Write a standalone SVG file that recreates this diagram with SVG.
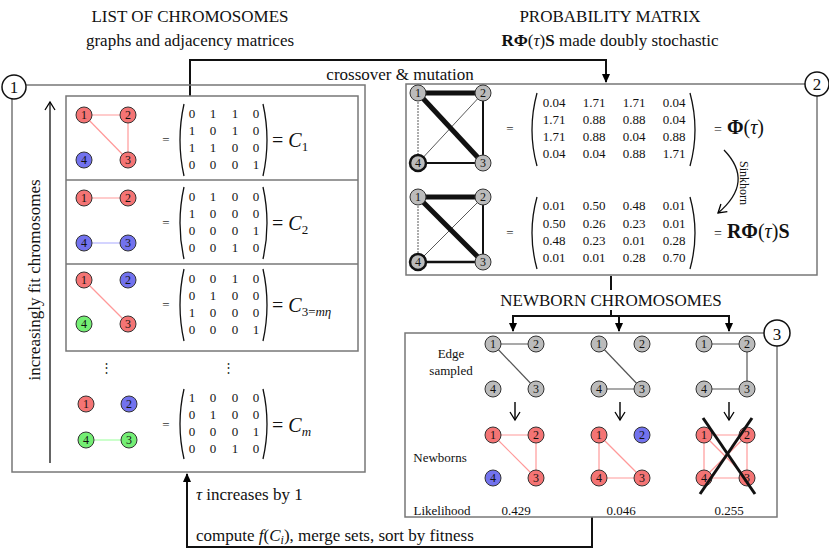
<svg xmlns="http://www.w3.org/2000/svg" width="829" height="555" viewBox="0 0 829 555" font-family="'Liberation Serif', 'DejaVu Serif', 'Times New Roman', serif">
<defs>
<marker id="ah" markerWidth="10" markerHeight="10" refX="8" refY="5" orient="auto" markerUnits="userSpaceOnUse"><path d="M0,1 L9,5 L0,9 z" fill="#000"/></marker>
<marker id="ao" markerWidth="12" markerHeight="12" refX="9" refY="6" orient="auto" markerUnits="userSpaceOnUse"><path d="M1,1 L9,6 L1,11" fill="none" stroke="#000" stroke-width="1.3"/></marker>
</defs>
<style>
text{font-family:'Liberation Serif','DejaVu Serif',serif;fill:#111}
.n{stroke:#333;stroke-width:1}
.r{fill:#f47474}.b{fill:#7272ee}.g{fill:#74ee74}.y{fill:#bbb}
.nl{font-size:12px;text-anchor:middle}
.m{font-size:13px;text-anchor:middle;fill:#333}
.er{stroke:#f99;stroke-width:1.2}
.box{fill:none;stroke:#777;stroke-width:1.5}
.big{font-size:20px}
.h{font-size:17px;text-anchor:middle}
.t{font-size:17px}
.p{fill:none;stroke:#111;stroke-width:1.3}
.c{fill:#fff;stroke:#111;stroke-width:1.5}
.ln{stroke:#111;stroke-width:2;fill:none}
</style>

<text class="h" x="190" y="22">LIST OF CHROMOSOMES</text>
<text class="h" x="190" y="46">graphs and adjacency matrices</text>
<text class="h" x="610" y="22">PROBABILITY MATRIX</text>
<text class="h" x="610" y="46"><tspan font-weight="bold">RΦ</tspan>(<tspan font-style="italic">τ</tspan>)<tspan font-weight="bold">S</tspan> made doubly stochastic</text>

<g id="connectors">
<polyline class="ln" points="190,96 190,60 606,60 606,82" marker-end="url(#ah)"/>
<text class="t" x="400" y="80" text-anchor="middle">crossover &amp; mutation</text>
<polyline class="ln" points="611,276 611,290"/>
<text class="t" x="611" y="306" text-anchor="middle">NEWBORN CHROMOSOMES</text>
<polyline class="ln" points="611,310 611,316"/>
<polyline class="ln" points="513,331 513,316 729,316 729,331"/>
<line class="ln" x1="513" y1="316" x2="513" y2="331" marker-end="url(#ah)"/>
<line class="ln" x1="619" y1="316" x2="619" y2="331" marker-end="url(#ah)"/>
<line class="ln" x1="729" y1="316" x2="729" y2="331" marker-end="url(#ah)"/>
<polyline class="ln" points="592,517 592,547 187,547 187,474" marker-end="url(#ah)"/>
<text class="t" x="196" y="500"><tspan font-style="italic">τ</tspan> increases by 1</text>
<text class="t" x="196" y="541">compute <tspan font-style="italic">f</tspan>(<tspan font-style="italic">C<tspan font-size="12" dy="3">i</tspan></tspan><tspan dy="-3">), merge sets, sort by fitness</tspan></text>
</g>

<g id="box1">
<rect class="box" x="12" y="85" width="353" height="387"/>
<rect class="box" x="66" y="96" width="292" height="255"/>
<line class="box" x1="66" y1="180" x2="358" y2="180"/>
<line class="box" x1="66" y1="264" x2="358" y2="264"/>
<line x1="50" y1="463" x2="50" y2="102" stroke="#111" stroke-width="1.3" marker-end="url(#ao)"/>
<text class="t" transform="translate(40,280) rotate(-90)" text-anchor="middle" font-size="19">increasingly fit chromosomes</text>
<circle class="c" cx="14" cy="87" r="12"/><text class="t" x="14" y="93" text-anchor="middle">1</text>
</g>

<g id="row1">
<line class="er" x1="84" y1="115" x2="128" y2="115"/><line class="er" x1="84" y1="115" x2="128" y2="160"/><line class="er" x1="128" y1="115" x2="128" y2="160"/>
<circle class="n r" cx="84" cy="115" r="8"/><text class="nl" x="84" y="119">1</text>
<circle class="n r" cx="128" cy="115" r="8"/><text class="nl" x="128" y="119">2</text>
<circle class="n r" cx="128" cy="160" r="8"/><text class="nl" x="128" y="164">3</text>
<circle class="n b" cx="84" cy="160" r="8"/><text class="nl" x="84" y="164">4</text>
<text class="m" x="166" y="144" font-size="16">=</text>
<path class="p" d="M184,104 Q176,140 184,176 M263,104 Q271,140 263,176"/>
<g class="m"><text x="192" y="118">0</text><text x="213" y="118">1</text><text x="235" y="118">1</text><text x="256" y="118">0</text>
<text x="192" y="135">1</text><text x="213" y="135">0</text><text x="235" y="135">1</text><text x="256" y="135">0</text>
<text x="192" y="152">1</text><text x="213" y="152">1</text><text x="235" y="152">0</text><text x="256" y="152">0</text>
<text x="192" y="169">0</text><text x="213" y="169">0</text><text x="235" y="169">0</text><text x="256" y="169">1</text></g>
<text class="big" x="272" y="147">= <tspan font-style="italic">C</tspan><tspan font-size="13" dy="4">1</tspan></text>
</g>

<g id="row2">
<line class="er" x1="84" y1="198" x2="128" y2="198"/><line x1="84" y1="243" x2="128" y2="243" stroke="#aaf" stroke-width="1.2"/>
<circle class="n r" cx="84" cy="198" r="8"/><text class="nl" x="84" y="202">1</text>
<circle class="n r" cx="128" cy="198" r="8"/><text class="nl" x="128" y="202">2</text>
<circle class="n b" cx="128" cy="243" r="8"/><text class="nl" x="128" y="247">3</text>
<circle class="n b" cx="84" cy="243" r="8"/><text class="nl" x="84" y="247">4</text>
<text class="m" x="166" y="227" font-size="16">=</text>
<path class="p" d="M184,187 Q176,223 184,259 M263,187 Q271,223 263,259"/>
<g class="m"><text x="192" y="201">0</text><text x="213" y="201">1</text><text x="235" y="201">0</text><text x="256" y="201">0</text>
<text x="192" y="218">1</text><text x="213" y="218">0</text><text x="235" y="218">0</text><text x="256" y="218">0</text>
<text x="192" y="235">0</text><text x="213" y="235">0</text><text x="235" y="235">0</text><text x="256" y="235">1</text>
<text x="192" y="252">0</text><text x="213" y="252">0</text><text x="235" y="252">1</text><text x="256" y="252">0</text></g>
<text class="big" x="272" y="230">= <tspan font-style="italic">C</tspan><tspan font-size="13" dy="4">2</tspan></text>
</g>

<g id="row3">
<line class="er" x1="84" y1="280" x2="128" y2="324"/>
<circle class="n r" cx="84" cy="280" r="8"/><text class="nl" x="84" y="284">1</text>
<circle class="n b" cx="128" cy="280" r="8"/><text class="nl" x="128" y="284">2</text>
<circle class="n r" cx="128" cy="324" r="8"/><text class="nl" x="128" y="328">3</text>
<circle class="n g" cx="84" cy="324" r="8"/><text class="nl" x="84" y="328">4</text>
<text class="m" x="166" y="309" font-size="16">=</text>
<path class="p" d="M184,269 Q176,305 184,341 M263,269 Q271,305 263,341"/>
<g class="m"><text x="192" y="283">0</text><text x="213" y="283">0</text><text x="235" y="283">1</text><text x="256" y="283">0</text>
<text x="192" y="300">0</text><text x="213" y="300">1</text><text x="235" y="300">0</text><text x="256" y="300">0</text>
<text x="192" y="317">1</text><text x="213" y="317">0</text><text x="235" y="317">0</text><text x="256" y="317">0</text>
<text x="192" y="334">0</text><text x="213" y="334">0</text><text x="235" y="334">0</text><text x="256" y="334">1</text></g>
<text class="big" x="272" y="312">= <tspan font-style="italic">C</tspan><tspan font-size="13" dy="4">3=<tspan font-style="italic">mη</tspan></tspan></text>
</g>

<g id="rowm">
<text class="m" x="106" y="372">⋮</text><text class="m" x="228" y="372">⋮</text>
<line x1="86" y1="440" x2="129" y2="440" stroke="#9f9" stroke-width="1.2"/>
<circle class="n r" cx="86" cy="404" r="8"/><text class="nl" x="86" y="408">1</text>
<circle class="n b" cx="129" cy="404" r="8"/><text class="nl" x="129" y="408">2</text>
<circle class="n g" cx="129" cy="440" r="8"/><text class="nl" x="129" y="444">3</text>
<circle class="n g" cx="86" cy="440" r="8"/><text class="nl" x="86" y="444">4</text>
<text class="m" x="166" y="429" font-size="16">=</text>
<path class="p" d="M184,389 Q176,424 184,459 M263,389 Q271,424 263,459"/>
<g class="m"><text x="192" y="402">1</text><text x="213" y="402">0</text><text x="235" y="402">0</text><text x="256" y="402">0</text>
<text x="192" y="419">0</text><text x="213" y="419">1</text><text x="235" y="419">0</text><text x="256" y="419">0</text>
<text x="192" y="436">0</text><text x="213" y="436">0</text><text x="235" y="436">0</text><text x="256" y="436">1</text>
<text x="192" y="453">0</text><text x="213" y="453">0</text><text x="235" y="453">1</text><text x="256" y="453">0</text></g>
<text class="big" x="272" y="432">= <tspan font-style="italic">C</tspan><tspan font-size="13" dy="4" font-style="italic">m</tspan></text>
</g>

<g id="box2">
<rect class="box" x="406" y="84" width="411" height="191"/>
<circle class="c" cx="817" cy="84" r="12"/><text class="t" x="817" y="90" text-anchor="middle">2</text>
<g stroke="#111">
<line x1="418" y1="93" x2="483" y2="93" stroke-width="5"/><line x1="418" y1="93" x2="483" y2="163" stroke-width="5"/>
<line x1="483" y1="93" x2="483" y2="163" stroke-width="2"/><line x1="418" y1="163" x2="483" y2="163" stroke-width="2"/>
<line x1="418" y1="93" x2="418" y2="163" stroke-width="0.7" stroke-dasharray="2,1"/><line x1="483" y1="93" x2="418" y2="163" stroke-width="0.7"/>
<line x1="418" y1="197" x2="483" y2="197" stroke-width="5"/><line x1="418" y1="197" x2="483" y2="262" stroke-width="5"/>
<line x1="483" y1="197" x2="483" y2="262" stroke-width="2"/><line x1="418" y1="262" x2="483" y2="262" stroke-width="2.5"/>
<line x1="418" y1="197" x2="418" y2="262" stroke-width="0.7" stroke-dasharray="2,1"/><line x1="483" y1="197" x2="418" y2="262" stroke-width="0.7"/>
</g>
<circle class="n y" cx="418" cy="93" r="8"/><text class="nl" x="418" y="97">1</text>
<circle class="n y" cx="483" cy="93" r="8"/><text class="nl" x="483" y="97">2</text>
<circle class="n y" cx="483" cy="163" r="8"/><text class="nl" x="483" y="167">3</text>
<circle class="y" cx="418" cy="163" r="8" stroke="#111" stroke-width="2.5"/><text class="nl" x="418" y="167">4</text>
<circle class="n y" cx="418" cy="197" r="8"/><text class="nl" x="418" y="201">1</text>
<circle class="n y" cx="483" cy="197" r="8"/><text class="nl" x="483" y="201">2</text>
<circle class="n y" cx="483" cy="262" r="8"/><text class="nl" x="483" y="266">3</text>
<circle class="y" cx="418" cy="262" r="8" stroke="#111" stroke-width="2.5"/><text class="nl" x="418" y="266">4</text>
<text class="m" x="510" y="133" font-size="16">=</text>
<path class="p" d="M537,93 Q527,130 537,166 M690,93 Q700,130 690,166"/>
<g class="m"><text x="554" y="107">0.04</text><text x="594" y="107">1.71</text><text x="634" y="107">1.71</text><text x="674" y="107">0.04</text>
<text x="554" y="124">1.71</text><text x="594" y="124">0.88</text><text x="634" y="124">0.88</text><text x="674" y="124">0.04</text>
<text x="554" y="141">1.71</text><text x="594" y="141">0.88</text><text x="634" y="141">0.04</text><text x="674" y="141">0.88</text>
<text x="554" y="158">0.04</text><text x="594" y="158">0.04</text><text x="634" y="158">0.88</text><text x="674" y="158">1.71</text></g>
<text class="big" x="714" y="134"><tspan font-size="14">=</tspan> <tspan font-weight="bold">Φ</tspan>(<tspan font-style="italic">τ</tspan>)</text>
<path d="M724,150 Q755,182 718,213" fill="none" stroke="#111" stroke-width="1.3" marker-end="url(#ao)"/>
<text x="740" y="183" font-size="12" text-anchor="middle" transform="rotate(90,740,183)">Sinkhorn</text>
<text class="m" x="510" y="237" font-size="16">=</text>
<path class="p" d="M537,197 Q527,233 537,269 M690,197 Q700,233 690,269"/>
<g class="m"><text x="554" y="210">0.01</text><text x="594" y="210">0.50</text><text x="634" y="210">0.48</text><text x="674" y="210">0.01</text>
<text x="554" y="228">0.50</text><text x="594" y="228">0.26</text><text x="634" y="228">0.23</text><text x="674" y="228">0.01</text>
<text x="554" y="245">0.48</text><text x="594" y="245">0.23</text><text x="634" y="245">0.01</text><text x="674" y="245">0.28</text>
<text x="554" y="262">0.01</text><text x="594" y="262">0.01</text><text x="634" y="262">0.28</text><text x="674" y="262">0.70</text></g>
<text class="big" x="714" y="238"><tspan font-size="14">=</tspan> <tspan font-weight="bold">RΦ</tspan>(<tspan font-style="italic">τ</tspan>)<tspan font-weight="bold">S</tspan></text>
</g>

<g id="box3">
<rect class="box" x="405" y="333" width="372" height="184"/>
<circle class="c" cx="777" cy="333" r="13"/><text class="t" x="777" y="340" text-anchor="middle" font-size="20">3</text>
<text x="451" y="358" font-size="13" text-anchor="middle">Edge</text>
<text x="451" y="375" font-size="13" text-anchor="middle">sampled</text>
<text x="440" y="462" font-size="13" text-anchor="middle">Newborns</text>
<text x="442" y="515" font-size="13" text-anchor="middle">Likelihood</text>
<text x="516" y="515" font-size="13" text-anchor="middle">0.429</text>
<text x="621" y="515" font-size="13" text-anchor="middle">0.046</text>
<text x="729" y="515" font-size="13" text-anchor="middle">0.255</text>
<g stroke="#555" stroke-width="1.2">
<line x1="493" y1="344" x2="536" y2="344"/><line x1="493" y1="344" x2="536" y2="389"/>
<line x1="599" y1="344" x2="642" y2="389"/><line x1="599" y1="389" x2="642" y2="389"/>
<line x1="704" y1="344" x2="747" y2="344"/><line x1="747" y1="344" x2="747" y2="389"/><line x1="704" y1="389" x2="747" y2="389"/>
</g>
<g stroke="#111" stroke-width="1.5">
<line x1="515" y1="402" x2="515" y2="420" marker-end="url(#ao)"/>
<line x1="620" y1="402" x2="620" y2="420" marker-end="url(#ao)"/>
<line x1="729" y1="402" x2="729" y2="420" marker-end="url(#ao)"/>
</g>
<g class="er">
<line x1="493" y1="435" x2="536" y2="435"/><line x1="493" y1="435" x2="536" y2="478"/><line x1="536" y1="435" x2="536" y2="478"/>
<line x1="599" y1="435" x2="599" y2="478"/><line x1="599" y1="435" x2="642" y2="478"/><line x1="599" y1="478" x2="642" y2="478"/>
<line x1="704" y1="435" x2="747" y2="435"/><line x1="747" y1="435" x2="747" y2="478"/><line x1="704" y1="478" x2="747" y2="478"/><line x1="704" y1="435" x2="704" y2="478"/><line x1="704" y1="435" x2="747" y2="478"/><line x1="747" y1="435" x2="704" y2="478"/>
</g>
<g id="es1">
<circle class="n y" cx="493" cy="344" r="8"/><text class="nl" x="493" y="348">1</text>
<circle class="n y" cx="536" cy="344" r="8"/><text class="nl" x="536" y="348">2</text>
<circle class="n y" cx="536" cy="389" r="8"/><text class="nl" x="536" y="393">3</text>
<circle class="n y" cx="493" cy="389" r="8"/><text class="nl" x="493" y="393">4</text>
</g>
<g id="es2">
<circle class="n y" cx="599" cy="344" r="8"/><text class="nl" x="599" y="348">1</text>
<circle class="n y" cx="642" cy="344" r="8"/><text class="nl" x="642" y="348">2</text>
<circle class="n y" cx="642" cy="389" r="8"/><text class="nl" x="642" y="393">3</text>
<circle class="n y" cx="599" cy="389" r="8"/><text class="nl" x="599" y="393">4</text>
</g>
<g id="es3">
<circle class="n y" cx="704" cy="344" r="8"/><text class="nl" x="704" y="348">1</text>
<circle class="n y" cx="747" cy="344" r="8"/><text class="nl" x="747" y="348">2</text>
<circle class="n y" cx="747" cy="389" r="8"/><text class="nl" x="747" y="393">3</text>
<circle class="n y" cx="704" cy="389" r="8"/><text class="nl" x="704" y="393">4</text>
</g>
<g id="nb1">
<circle class="n r" cx="493" cy="435" r="8"/><text class="nl" x="493" y="439">1</text>
<circle class="n r" cx="536" cy="435" r="8"/><text class="nl" x="536" y="439">2</text>
<circle class="n r" cx="536" cy="478" r="8"/><text class="nl" x="536" y="482">3</text>
<circle class="n b" cx="493" cy="478" r="8"/><text class="nl" x="493" y="482">4</text>
</g>
<g id="nb2">
<circle class="n r" cx="599" cy="435" r="8"/><text class="nl" x="599" y="439">1</text>
<circle class="n b" cx="642" cy="435" r="8"/><text class="nl" x="642" y="439">2</text>
<circle class="n r" cx="642" cy="478" r="8"/><text class="nl" x="642" y="482">3</text>
<circle class="n r" cx="599" cy="478" r="8"/><text class="nl" x="599" y="482">4</text>
</g>
<g id="nb3">
<circle class="n r" cx="704" cy="435" r="8"/><text class="nl" x="704" y="439">1</text>
<circle class="n r" cx="747" cy="435" r="8"/><text class="nl" x="747" y="439">2</text>
<circle class="n r" cx="747" cy="478" r="8"/><text class="nl" x="747" y="482">3</text>
<circle class="n r" cx="704" cy="478" r="8"/><text class="nl" x="704" y="482">4</text>
<line x1="703" y1="418" x2="755" y2="494" stroke="#111" stroke-width="3"/>
<line x1="752" y1="418" x2="700" y2="494" stroke="#111" stroke-width="3"/>
</g>
</g>
</svg>
